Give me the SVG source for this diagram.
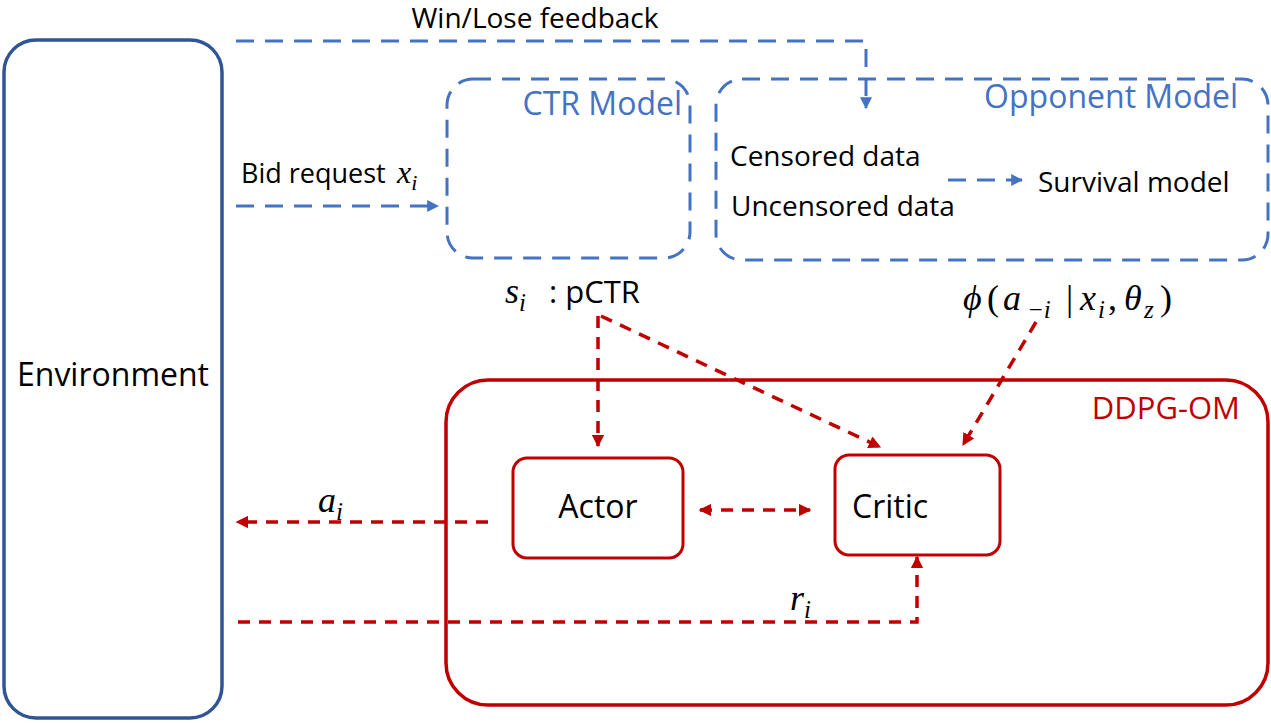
<svg xmlns="http://www.w3.org/2000/svg" width="1271" height="723" viewBox="0 0 1271 723">
<style>
.t{font-family:"Open Sans","Noto Sans","Liberation Sans",sans-serif;font-size:28px;fill:#000}
.big{font-size:32px}
.m{font-family:"Liberation Serif","DejaVu Serif",serif;font-style:italic;font-size:36px;fill:#000}
.up{font-style:normal}
.ms{font-family:"Liberation Serif","DejaVu Serif",serif;font-style:italic;font-size:25px;fill:#000}
.bl{fill:none;stroke:#4472C4;stroke-width:3;stroke-dasharray:18 11}
.rd{fill:none;stroke:#C00000;stroke-width:3.5;stroke-dasharray:12 9}
.blt{font-family:"Open Sans","Noto Sans","Liberation Sans",sans-serif;font-size:32px;fill:#4472C4}
.rdt{font-family:"Open Sans","Noto Sans","Liberation Sans",sans-serif;font-size:31px;fill:#C00000}
</style>
<defs>
<marker id="ab" viewBox="0 0 10 10" refX="9" refY="5" markerWidth="4" markerHeight="4" orient="auto-start-reverse"><path d="M0,0L10,5L0,10z" fill="#4472C4"/></marker>
<marker id="ar" viewBox="0 0 10 10" refX="9" refY="5" markerWidth="3.6" markerHeight="3.6" orient="auto-start-reverse"><path d="M0,0L10,5L0,10z" fill="#C00000"/></marker>
</defs>
<rect width="1271" height="723" fill="#fff"/>
<g id="environment">
<rect x="4" y="40" width="218" height="678" rx="32" fill="none" stroke="#2F5597" stroke-width="3.5"/>
<text class="t big" x="113" y="386" text-anchor="middle">Environment</text>
</g>
<g id="ctr-model">
<rect x="447" y="79" width="243" height="179" rx="26" class="bl"/>
<text class="blt" x="682" y="115" text-anchor="end">CTR Model</text>
</g>
<g id="opponent-model">
<rect x="716" y="79" width="552" height="181" rx="26" class="bl"/>
<text class="blt" x="1238" y="108" text-anchor="end">Opponent Model</text>
<text class="t" x="730" y="166">Censored data</text>
<text class="t" x="731" y="216">Uncensored data</text>
<text class="t" x="1038" y="192">Survival model</text>
</g>
<g id="ddpg-om">
<rect x="446" y="380" width="822" height="325" rx="42" fill="none" stroke="#C00000" stroke-width="3.5"/>
<text class="rdt" x="1240" y="419" text-anchor="end">DDPG-OM</text>
</g>
<g id="actor">
<rect x="513" y="458" width="170" height="100" rx="14" fill="none" stroke="#C00000" stroke-width="3"/>
<text class="t big" x="598" y="518" text-anchor="middle">Actor</text>
</g>
<g id="critic">
<rect x="835" y="455" width="165" height="100" rx="14" fill="none" stroke="#C00000" stroke-width="3"/>
<text class="t big" x="852" y="518">Critic</text>
</g>
<g id="connectors">
<path d="M236,41H866V108" class="bl" marker-end="url(#ab)"/>
<path d="M236,206H438" class="bl" marker-end="url(#ab)"/>
<path d="M948,180H1022" class="bl" marker-end="url(#ab)"/>
<path d="M598,316V446" class="rd" marker-end="url(#ar)"/>
<path d="M601,316L880,447" class="rd" marker-end="url(#ar)"/>
<path d="M1036,322L963,445" class="rd" marker-end="url(#ar)"/>
<path d="M700,510H810" class="rd" marker-start="url(#ar)" marker-end="url(#ar)"/>
<path d="M488,522H237" class="rd" marker-end="url(#ar)"/>
<path d="M238,622H917V557" class="rd" marker-end="url(#ar)"/>
</g>
<g id="labels">
<text class="t" x="535" y="28" text-anchor="middle">Win/Lose feedback</text>
<text class="t" x="241" y="183" style="font-size:27px">Bid request</text>
<text x="397" y="183"><tspan class="m" style="font-size:32px">x</tspan><tspan class="ms" style="font-size:22px" dy="7">i</tspan></text>
<text x="505" y="303"><tspan class="m">s</tspan><tspan class="ms" dy="8">i</tspan></text>
<text class="t" x="549" y="303" style="font-size:31px">: pCTR</text>
<text y="310" class="m"><tspan x="963">ϕ</tspan><tspan x="987" class="up">(</tspan><tspan x="1003">a</tspan><tspan x="1027" class="ms" dy="8">−i</tspan><tspan x="1066" dy="-8" class="up">|</tspan><tspan x="1080">x</tspan><tspan x="1098" class="ms" dy="8">i</tspan><tspan x="1108" dy="-8" class="up">,</tspan><tspan x="1124">θ</tspan><tspan x="1144" class="ms" dy="8">z</tspan><tspan x="1160" dy="-8" class="up">)</tspan></text>
<text x="318" y="512"><tspan class="m">a</tspan><tspan class="ms" dy="8">i</tspan></text>
<text x="790" y="610"><tspan class="m">r</tspan><tspan class="ms" dy="8">i</tspan></text>
</g>
</svg>
